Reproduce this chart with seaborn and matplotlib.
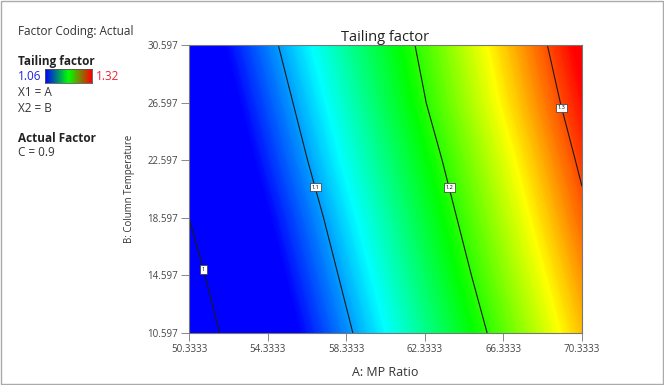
import numpy as np
import matplotlib
matplotlib.use("Agg")
import matplotlib.pyplot as plt
import seaborn as sns
from matplotlib.patches import Rectangle
from matplotlib.colors import Normalize

# ---- data ----
x_ticks = [50.3333, 54.3333, 58.3333, 62.3333, 66.3333, 70.3333]   # A: MP Ratio
y_ticks = [10.597, 14.597, 18.597, 22.597, 26.597, 30.597]         # B: Column Temperature
# Tailing factor estimated at each (y, x) grid point (rows = y_ticks, cols = x_ticks)
z_row_10 = [0.977, 1.036, 1.095, 1.154, 1.212, 1.271]
z_row_14 = [0.988, 1.047, 1.106, 1.165, 1.224, 1.282]
z_row_18 = [1.000, 1.058, 1.117, 1.176, 1.235, 1.294]
z_row_22 = [1.011, 1.070, 1.129, 1.187, 1.246, 1.305]
z_row_26 = [1.022, 1.081, 1.140, 1.199, 1.258, 1.316]
z_row_30 = [1.033, 1.092, 1.151, 1.207, 1.267, 1.326]
contour_levels = [1.0, 1.1, 1.2, 1.3]
level_labels = ["1", "1.1", "1.2", "1.3"]
label_positions = [(51.15, 15.04), (56.80, 20.74), (63.67, 20.74), (69.47, 26.29)]
z_min, z_max = 1.06, 1.32

sns.set_theme(style="white")
plt.rcParams['font.family'] = ['Open Sans', 'DejaVu Sans']

fig = plt.figure(figsize=(6.64, 3.85), dpi=100)
ax = fig.add_axes([189/664, 1-333/385, (582-189)/664, (333-45)/385])

cmap = sns.blend_palette(["#0000ff", "#00ffff", "#00ff00", "#ffff00", "#ff0000"], as_cmap=True)
cmap.set_under("#0000ff")
cmap.set_over("#ff0000")

X, Y = np.meshgrid(x_ticks, y_ticks)
Z = np.array([z_row_10, z_row_14, z_row_18, z_row_22, z_row_26, z_row_30])

fill_levels = np.linspace(Z.min() - 0.005, Z.max() + 0.005, 300)
ax.contourf(X, Y, Z, levels=fill_levels, cmap=cmap,
            norm=Normalize(vmin=z_min, vmax=z_max), antialiased=False)
cs = ax.contour(X, Y, Z, levels=contour_levels, colors="#1a1a1a", linewidths=0.8)
fmt = {lv: lb for lv, lb in zip(contour_levels, level_labels)}
texts = ax.clabel(cs, levels=contour_levels, fmt=fmt, inline=False, fontsize=4,
                  manual=label_positions, colors="black")
for t in texts:
    t.set_rotation(0)
    t.set_bbox(dict(boxstyle="square,pad=0.3", facecolor="white", edgecolor="#333333", linewidth=0.5))

ax.set_xlim(x_ticks[0], x_ticks[-1])
ax.set_ylim(y_ticks[0], y_ticks[-1])
ax.set_xticks(x_ticks)
ax.set_yticks(y_ticks)
ax.set_xticklabels([f"{v:g}" for v in x_ticks])
ax.set_yticklabels([f"{v:g}" for v in y_ticks])
ax.tick_params(axis="both", which="both", direction="out", length=6, width=0.7,
               color="#888888", labelsize=7, labelcolor="#444444", pad=2,
               bottom=True, left=True)
for s in ax.spines.values():
    s.set_color("#777777")
    s.set_linewidth(0.8)

ax.set_xlabel("A: MP Ratio", fontsize=9, color="#333333", labelpad=8)
ax.set_ylabel("B: Column Temperature", fontsize=6.9, color="#333333", labelpad=9)
ax.set_title("Tailing factor", fontsize=10.5, color="#222222", pad=2)

# ---- left-side legend text ----
fs = 8.5
fig.text(18/664, 1-32/385, "Factor Coding: Actual", fontsize=fs, color="#333333", va="center")
fig.text(18/664, 1-62/385, "Tailing factor", fontsize=fs, color="#222222", fontweight="bold", va="center")
fig.text(18/664, 1-76/385, "1.06", fontsize=fs, color="#2222dd", va="center")
fig.text(96/664, 1-76/385, "1.32", fontsize=fs, color="#ee2233", va="center")
cax = fig.add_axes([45/664, 1-83/385, 47/664, 14/385])
grad = np.linspace(0, 1, 256).reshape(1, -1)
leg_cmap = sns.blend_palette(["#0000ff", "#00ff00", "#ff0000"], as_cmap=True)
cax.imshow(grad, aspect="auto", cmap=leg_cmap)
cax.set_xticks([]); cax.set_yticks([])
for s in cax.spines.values():
    s.set_color("#555555"); s.set_linewidth(0.6)
fig.text(18/664, 1-92/385, "X1 = A", fontsize=fs, color="#333333", va="center")
fig.text(18/664, 1-108/385, "X2 = B", fontsize=fs, color="#333333", va="center")
fig.text(18/664, 1-138/385, "Actual Factor", fontsize=fs, color="#222222", fontweight="bold", va="center")
fig.text(18/664, 1-153/385, "C = 0.9", fontsize=fs, color="#333333", va="center")

fig.patches.append(Rectangle((0.001, 0.002), 0.997, 0.996, transform=fig.transFigure,
                             fill=False, edgecolor="#aaaaaa", linewidth=1))

fig.savefig("out.png", dpi=100)
